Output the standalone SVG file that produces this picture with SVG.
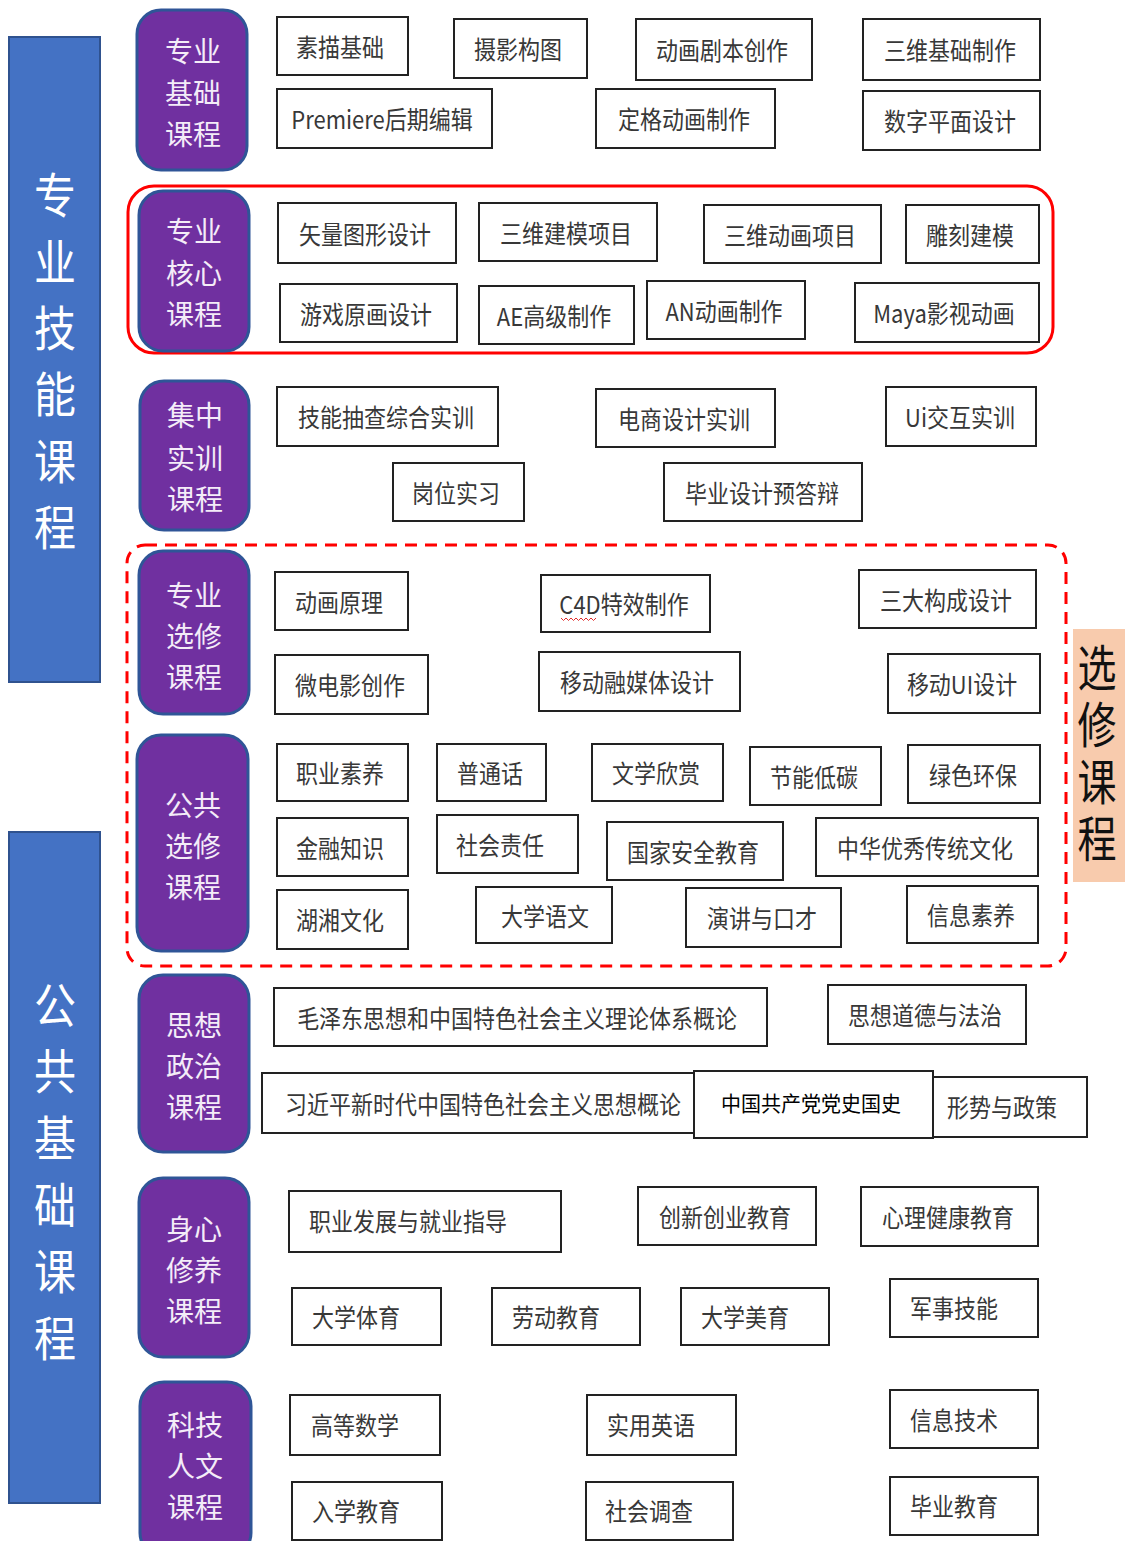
<svg xmlns="http://www.w3.org/2000/svg" width="1125" height="1541" viewBox="0 0 1125 1541">
<style>
.bg{fill:#ffffff}
.bar{fill:#4472C4;stroke:#2F528F;stroke-width:2}
.bart{font-family:"Noto Sans CJK SC","Noto Sans",sans-serif;font-size:42px;fill:#ffffff;text-anchor:middle;writing-mode:vertical-rl}
.cat rect{fill:#7030A0;stroke:#2F5597;stroke-width:3}
.cat text{font-family:"Noto Sans CJK SC","Noto Sans",sans-serif;font-size:28px;fill:#F4ECF8;text-anchor:middle;dominant-baseline:central}
.n rect{fill:#ffffff;stroke:#222222;stroke-width:2}
.n text{font-family:"Noto Sans CJK SC","Noto Sans",sans-serif;font-size:22px;fill:#383838;text-anchor:middle;dominant-baseline:central}
.frame{fill:none;stroke:#FF0000;stroke-width:3}
.dash{stroke-dasharray:12 8}
.side{fill:#F8CBAD}
.sidet{font-family:"Noto Sans CJK SC","Noto Sans",sans-serif;font-size:39px;fill:#111111;text-anchor:middle;writing-mode:vertical-rl}
</style>
<rect class="bg" x="0" y="0" width="1125" height="1541"/>

<!-- Side bars -->
<g id="bar-skill">
<rect class="bar" x="9" y="37" width="91" height="645"/>
<text class="bart" style="letter-spacing:15.7px" transform="translate(55 361) scale(1 1.15)" x="0" y="7.8">专业技能课程</text>
</g>
<g id="bar-public">
<rect class="bar" x="9" y="832" width="91" height="671"/>
<text class="bart" style="letter-spacing:15.9px" transform="translate(55 1171) scale(1 1.15)" x="0" y="7.9">公共基础课程</text>
</g>
<g id="bar-elective">
<rect class="side" x="1073" y="629" width="52" height="253"/>
<text class="sidet" style="letter-spacing:6.4px" transform="translate(1097 753) scale(1 1.25)" x="0" y="3.2">选修课程</text>
</g>

<!-- Frames -->
<g id="frames">
<rect class="frame" x="128" y="186" width="925" height="167" rx="26"/>
<rect class="frame dash" x="127" y="545" width="939" height="421" rx="18"/>
</g>

<!-- Category boxes -->
<g id="cat-1" class="cat"><rect x="137" y="10" width="110" height="160" rx="24"/>
<text x="193" y="50">专业</text><text x="193" y="92">基础</text><text x="193" y="133">课程</text></g>
<g id="cat-2" class="cat"><rect x="139" y="191" width="110" height="160" rx="24"/>
<text x="194" y="230">专业</text><text x="194" y="272">核心</text><text x="194" y="313">课程</text></g>
<g id="cat-3" class="cat"><rect x="140" y="381" width="109" height="149" rx="24"/>
<text x="195" y="414">集中</text><text x="195" y="457">实训</text><text x="195" y="498">课程</text></g>
<g id="cat-4" class="cat"><rect x="139" y="551" width="110" height="163" rx="24"/>
<text x="194" y="594">专业</text><text x="194" y="635">选修</text><text x="194" y="676">课程</text></g>
<g id="cat-5" class="cat"><rect x="137" y="735" width="111" height="216" rx="24"/>
<text x="193" y="804">公共</text><text x="193" y="845">选修</text><text x="193" y="886">课程</text></g>
<g id="cat-6" class="cat"><rect x="139" y="975" width="110" height="177" rx="24"/>
<text x="194" y="1024">思想</text><text x="194" y="1065">政治</text><text x="194" y="1106">课程</text></g>
<g id="cat-7" class="cat"><rect x="139" y="1178" width="110" height="179" rx="24"/>
<text x="194" y="1228">身心</text><text x="194" y="1269">修养</text><text x="194" y="1310">课程</text></g>
<g id="cat-8" class="cat"><rect x="140" y="1382" width="111" height="175" rx="24"/>
<text x="195" y="1424">科技</text><text x="195" y="1465">人文</text><text x="195" y="1506">课程</text></g>

<!-- 专业基础 -->
<g id="n-sumiao" class="n"><rect x="277" y="17" width="131" height="58"/><text transform="translate(340 46) scale(1 1.12)">素描基础</text></g>
<g id="n-sheying" class="n"><rect x="454" y="19" width="133" height="59"/><text transform="translate(518 48) scale(1 1.12)">摄影构图</text></g>
<g id="n-juben" class="n"><rect x="636" y="19" width="176" height="61"/><text transform="translate(722 49) scale(1 1.12)">动画剧本创作</text></g>
<g id="n-sanwei" class="n"><rect x="863" y="19" width="177" height="61"/><text transform="translate(950 49) scale(1 1.12)">三维基础制作</text></g>
<g id="n-premiere" class="n"><rect x="277" y="89" width="215" height="59"/><text transform="translate(382 118) scale(1 1.12)">Premiere后期编辑</text></g>
<g id="n-dingge" class="n"><rect x="596" y="89" width="179" height="59"/><text transform="translate(684 118) scale(1 1.12)">定格动画制作</text></g>
<g id="n-shuzi" class="n"><rect x="863" y="91" width="177" height="59"/><text transform="translate(950 120) scale(1 1.12)">数字平面设计</text></g>

<!-- 专业核心 -->
<g id="n-shiliang" class="n"><rect x="278" y="203" width="178" height="60"/><text transform="translate(365 233) scale(1 1.12)">矢量图形设计</text></g>
<g id="n-jianmo" class="n"><rect x="479" y="203" width="178" height="58"/><text transform="translate(566 232) scale(1 1.12)">三维建模项目</text></g>
<g id="n-donghua3d" class="n"><rect x="704" y="205" width="177" height="58"/><text transform="translate(790 234) scale(1 1.12)">三维动画项目</text></g>
<g id="n-diaoke" class="n"><rect x="906" y="205" width="133" height="58"/><text transform="translate(970 234) scale(1 1.12)">雕刻建模</text></g>
<g id="n-youxi" class="n"><rect x="280" y="284" width="177" height="58"/><text transform="translate(366 313) scale(1 1.12)">游戏原画设计</text></g>
<g id="n-ae" class="n"><rect x="479" y="286" width="155" height="58"/><text transform="translate(554 315) scale(1 1.12)">AE高级制作</text></g>
<g id="n-an" class="n"><rect x="647" y="281" width="158" height="58"/><text transform="translate(724 310) scale(1 1.12)">AN动画制作</text></g>
<g id="n-maya" class="n"><rect x="855" y="283" width="184" height="59"/><text transform="translate(944 312) scale(1 1.12)">Maya影视动画</text></g>

<!-- 集中实训 -->
<g id="n-jineng" class="n"><rect x="277" y="387" width="221" height="59"/><text transform="translate(386 416) scale(1 1.12)">技能抽查综合实训</text></g>
<g id="n-dianshang" class="n"><rect x="596" y="389" width="179" height="58"/><text transform="translate(684 418) scale(1 1.12)">电商设计实训</text></g>
<g id="n-ui" class="n"><rect x="886" y="387" width="150" height="59"/><text transform="translate(960 416) scale(1 1.12)">Ui交互实训</text></g>
<g id="n-gangwei" class="n"><rect x="393" y="463" width="131" height="58"/><text transform="translate(456 492) scale(1 1.12)">岗位实习</text></g>
<g id="n-biye" class="n"><rect x="664" y="463" width="198" height="58"/><text transform="translate(762 492) scale(1 1.12)">毕业设计预答辩</text></g>

<!-- 专业选修 -->
<g id="n-yuanli" class="n"><rect x="275" y="572" width="133" height="58"/><text transform="translate(339 601) scale(1 1.12)">动画原理</text></g>
<g id="n-c4d" class="n"><rect x="541" y="575" width="169" height="57"/><text transform="translate(624 603) scale(1 1.12)">C4D特效制作</text>
<path d="M561 618 l2.5 2.5 l2.5 -2.5 l2.5 2.5 l2.5 -2.5 l2.5 2.5 l2.5 -2.5 l2.5 2.5 l2.5 -2.5 l2.5 2.5 l2.5 -2.5 l2.5 2.5 l2.5 -2.5 l2.5 2.5 l2.5 -2.5" fill="none" stroke="#E03030" stroke-width="1"/></g>
<g id="n-goucheng" class="n"><rect x="859" y="570" width="177" height="58"/><text transform="translate(946 599) scale(1 1.12)">三大构成设计</text></g>
<g id="n-weidianying" class="n"><rect x="275" y="655" width="153" height="59"/><text transform="translate(350 684) scale(1 1.12)">微电影创作</text></g>
<g id="n-rongmeiti" class="n"><rect x="539" y="652" width="201" height="59"/><text transform="translate(637 681) scale(1 1.12)">移动融媒体设计</text></g>
<g id="n-mobileui" class="n"><rect x="888" y="654" width="152" height="59"/><text transform="translate(962 683) scale(1 1.12)">移动UI设计</text></g>

<!-- 公共选修 -->
<g id="n-zhiye" class="n"><rect x="277" y="744" width="131" height="57"/><text transform="translate(340 772) scale(1 1.12)">职业素养</text></g>
<g id="n-putonghua" class="n"><rect x="437" y="744" width="109" height="57"/><text transform="translate(490 772) scale(1 1.12)">普通话</text></g>
<g id="n-wenxue" class="n"><rect x="592" y="744" width="131" height="57"/><text transform="translate(656 772) scale(1 1.12)">文学欣赏</text></g>
<g id="n-jieneng" class="n"><rect x="750" y="747" width="131" height="58"/><text transform="translate(814 776) scale(1 1.12)">节能低碳</text></g>
<g id="n-lvse" class="n"><rect x="908" y="745" width="132" height="58"/><text transform="translate(973 774) scale(1 1.12)">绿色环保</text></g>
<g id="n-jinrong" class="n"><rect x="277" y="818" width="131" height="58"/><text transform="translate(340 847) scale(1 1.12)">金融知识</text></g>
<g id="n-zeren" class="n"><rect x="437" y="815" width="141" height="58"/><text transform="translate(500 844) scale(1 1.12)">社会责任</text></g>
<g id="n-anquan" class="n"><rect x="607" y="822" width="176" height="58"/><text transform="translate(693 851) scale(1 1.12)">国家安全教育</text></g>
<g id="n-chuantong" class="n"><rect x="816" y="818" width="222" height="58"/><text transform="translate(925 847) scale(1 1.12)">中华优秀传统文化</text></g>
<g id="n-huxiang" class="n"><rect x="277" y="890" width="131" height="59"/><text transform="translate(340 919) scale(1 1.12)">湖湘文化</text></g>
<g id="n-yuwen" class="n"><rect x="476" y="887" width="136" height="56"/><text transform="translate(545 915) scale(1 1.12)">大学语文</text></g>
<g id="n-yanjiang" class="n"><rect x="686" y="888" width="155" height="59"/><text transform="translate(762 917) scale(1 1.12)">演讲与口才</text></g>
<g id="n-xinxisuyang" class="n"><rect x="907" y="886" width="131" height="57"/><text transform="translate(971 914) scale(1 1.12)">信息素养</text></g>

<!-- 思想政治 -->
<g id="n-mao" class="n"><rect x="274" y="988" width="493" height="58"/><text transform="translate(517 1017) scale(1 1.12)">毛泽东思想和中国特色社会主义理论体系概论</text></g>
<g id="n-daode" class="n"><rect x="828" y="985" width="198" height="59"/><text transform="translate(925 1014) scale(1 1.12)">思想道德与法治</text></g>
<g id="n-xi" class="n"><rect x="262" y="1073" width="438" height="60"/><text transform="translate(483 1103) scale(1 1.12)">习近平新时代中国特色社会主义思想概论</text></g>
<g id="n-xingshi" class="n"><rect x="932" y="1077" width="155" height="60"/><text transform="translate(1002 1106) scale(1 1.12)">形势与政策</text></g>
<g id="n-dangshi" class="n"><rect x="694" y="1071" width="239" height="67"/><text style="fill:#000000;font-size:20px" transform="translate(811 1102) scale(1 1.05)">中国共产党党史国史</text></g>

<!-- 身心修养 -->
<g id="n-jiuye" class="n"><rect x="289" y="1191" width="272" height="61"/><text transform="translate(408 1220) scale(1 1.12)">职业发展与就业指导</text></g>
<g id="n-chuangxin" class="n"><rect x="638" y="1187" width="178" height="58"/><text transform="translate(725 1216) scale(1 1.12)">创新创业教育</text></g>
<g id="n-xinli" class="n"><rect x="861" y="1187" width="177" height="59"/><text transform="translate(948 1216) scale(1 1.12)">心理健康教育</text></g>
<g id="n-tiyu" class="n"><rect x="292" y="1288" width="149" height="57"/><text transform="translate(356 1316) scale(1 1.12)">大学体育</text></g>
<g id="n-laodong" class="n"><rect x="492" y="1288" width="148" height="57"/><text transform="translate(556 1316) scale(1 1.12)">劳动教育</text></g>
<g id="n-meiyu" class="n"><rect x="681" y="1288" width="148" height="57"/><text transform="translate(745 1316) scale(1 1.12)">大学美育</text></g>
<g id="n-junshi" class="n"><rect x="890" y="1279" width="148" height="58"/><text transform="translate(954 1307) scale(1 1.12)">军事技能</text></g>

<!-- 科技人文 -->
<g id="n-shuxue" class="n"><rect x="290" y="1395" width="150" height="60"/><text transform="translate(355 1424) scale(1 1.12)">高等数学</text></g>
<g id="n-yingyu" class="n"><rect x="587" y="1395" width="149" height="60"/><text transform="translate(651 1424) scale(1 1.12)">实用英语</text></g>
<g id="n-xinxijishu" class="n"><rect x="890" y="1390" width="148" height="58"/><text transform="translate(954 1419) scale(1 1.12)">信息技术</text></g>
<g id="n-ruxue" class="n"><rect x="292" y="1482" width="150" height="58"/><text transform="translate(356 1510) scale(1 1.12)">入学教育</text></g>
<g id="n-diaocha" class="n"><rect x="586" y="1482" width="147" height="58"/><text transform="translate(649 1510) scale(1 1.12)">社会调查</text></g>
<g id="n-biyejiaoyu" class="n"><rect x="890" y="1477" width="148" height="58"/><text transform="translate(954 1505) scale(1 1.12)">毕业教育</text></g>

<g id="connectors"></g>
</svg>
